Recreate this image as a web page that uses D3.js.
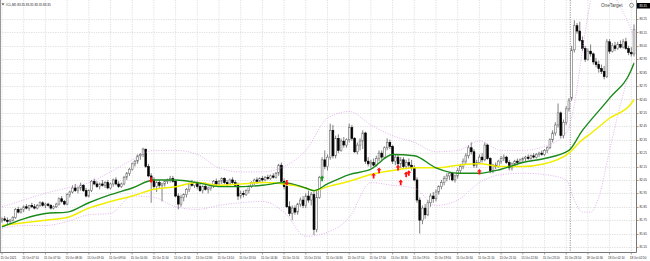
<!DOCTYPE html>
<meta charset="utf-8">
<style>
body { margin: 0; background: #fff; overflow: hidden; }
text { font-family: "Liberation Sans", Arial, sans-serif; }
</style>
<body>
<script src="https://cdn.jsdelivr.net/npm/d3@7"></script>
<script>

// #CL M5, 15 Oct 06:30 .. 18 Oct 03:00 (one bar per entry)
var opens = [
  81.75,81.76,81.75,81.74,81.75,81.77,81.83,81.81, 81.83,81.85,81.84,81.86,81.85,81.84,81.86,81.88,
  81.86,81.87,81.86,81.84,81.85,81.87,81.91,81.89, 81.87,81.94,81.96,81.99,81.97,81.99,82.01,81.97,
  81.93,81.97,82.04,82.02,82.00,82.02,82.01,82.03, 81.99,82.02,82.05,82.02,82.00,82.02,82.07,82.10,
  82.13,82.17,82.19,82.23,82.24,82.28,82.15,82.08, 82.05,82.00,82.03,82.01,82.02,82.04,82.05,82.06,
  82.04,81.93,81.87,81.92,81.94,81.98,82.02,82.01, 82.03,82.00,81.97,82.00,81.98,81.99,82.01,82.04,
  82.02,82.04,82.06,82.03,82.02,82.05,82.03,82.01, 81.93,81.95,81.94,81.97,82.00,82.03,82.05,82.04,
  82.06,82.05,82.07,82.06,82.08,82.07,82.10,82.16, 82.04,82.00,81.85,81.80,81.84,81.81,81.87,81.90,
  81.86,81.93,81.90,81.94,81.68,81.92,82.07,82.20, 82.15,82.22,82.42,82.23,82.36,82.27,82.34,82.31,
  82.35,82.44,82.36,82.26,82.31,82.34,82.40,82.19, 82.17,82.18,82.16,82.21,82.25,82.22,82.29,82.33,
  82.30,82.19,82.22,82.17,82.20,82.15,82.18,82.16, 82.14,82.05,81.90,81.75,81.84,81.79,81.88,81.93,
  81.91,81.96,82.00,82.03,82.06,82.08,82.10,82.05, 82.08,82.12,82.15,82.19,82.23,82.29,82.26,82.16,
  82.18,82.22,82.20,82.31,82.21,82.12,82.16,82.15, 82.19,82.21,82.22,82.18,82.14,82.17,82.19,82.18,
  82.20,82.21,82.22,82.21,82.23,82.22,82.24,82.25, 82.24,82.27,82.29,82.35,82.40,82.46,82.55,82.38,
  82.48,82.58,82.66,83.02,83.20,83.16,83.09,83.03, 82.95,83.01,82.99,82.93,82.91,82.88,82.86,82.82,
  83.08,83.01,83.05,83.03,83.06,83.04,83.08,83.03, 83.00,82.99
];
var highs = [
  81.77,81.78,81.77,81.76,81.78,81.84,81.85,81.84, 81.86,81.87,81.86,81.88,81.87,81.87,81.89,81.89,
  81.88,81.88,81.87,81.86,81.88,81.92,81.93,81.90, 81.95,81.97,82.01,82.02,82.00,82.03,82.02,81.99,
  81.98,82.05,82.06,82.04,82.03,82.05,82.04,82.05, 82.03,82.06,82.07,82.04,82.03,82.08,82.11,82.14,
  82.18,82.20,82.24,82.25,82.29,82.28,82.17,82.10, 82.07,82.04,82.05,82.03,82.05,82.06,82.08,82.08,
  82.05,81.95,81.94,81.95,81.99,82.03,82.05,82.04, 82.04,82.02,82.01,82.03,82.00,82.02,82.05,82.06,
  82.05,82.07,82.07,82.05,82.06,82.07,82.05,82.03, 81.97,81.97,81.98,82.01,82.04,82.06,82.07,82.07,
  82.08,82.08,82.09,82.09,82.10,82.11,82.17,82.18, 82.06,82.01,81.89,81.86,81.86,81.88,81.92,81.93,
  81.95,81.97,81.96,81.97,81.97,82.08,82.22,82.27, 82.24,82.47,82.46,82.38,82.39,82.36,82.37,82.36,
  82.47,82.46,82.37,82.33,82.36,82.42,82.41,82.22, 82.20,82.21,82.23,82.27,82.27,82.30,82.36,82.35,
  82.31,82.24,82.24,82.22,82.22,82.20,82.21,82.20, 82.16,82.07,81.92,81.86,81.87,81.90,81.95,81.96,
  81.98,82.01,82.05,82.08,82.10,82.11,82.11,82.09, 82.14,82.17,82.21,82.25,82.31,82.33,82.28,82.20,
  82.24,82.25,82.33,82.32,82.22,82.17,82.18,82.20, 82.23,82.24,82.23,82.20,82.18,82.20,82.21,82.21,
  82.22,82.23,82.24,82.24,82.25,82.25,82.26,82.27, 82.28,82.30,82.36,82.42,82.48,82.62,82.56,82.50,
  82.60,82.66,83.05,83.24,83.22,83.23,83.12,83.05, 83.03,83.06,83.00,82.96,82.94,82.91,82.90,83.10,
  83.10,83.07,83.08,83.08,83.09,83.10,83.11,83.05, 83.04,83.21
];
var lows = [
  81.73,81.74,81.72,81.72,81.74,81.76,81.80,81.80, 81.81,81.83,81.82,81.84,81.83,81.83,81.85,81.85,
  81.84,81.85,81.83,81.83,81.84,81.86,81.88,81.86, 81.86,81.92,81.95,81.96,81.95,81.97,81.96,81.92,
  81.92,81.96,82.01,81.99,81.98,82.00,81.99,81.98, 81.98,82.00,82.01,81.99,81.99,82.01,82.05,82.08,
  82.12,82.15,82.17,82.20,82.22,82.14,82.07,81.88, 81.98,81.96,81.99,81.89,82.00,82.02,82.03,82.03,
  81.92,81.83,81.85,81.89,81.92,81.96,82.00,81.99, 81.98,81.96,81.95,81.97,81.95,81.97,81.99,82.01,
  82.00,82.02,82.02,82.00,82.01,82.02,82.00,81.90, 81.91,81.92,81.93,81.95,81.99,82.01,82.02,82.03,
  82.03,82.04,82.05,82.05,82.06,82.06,82.08,82.03, 81.98,81.84,81.78,81.75,81.79,81.79,81.85,81.84,
  81.84,81.88,81.86,81.64,81.66,81.91,82.06,82.13, 82.12,82.20,82.21,82.21,82.25,82.26,82.29,82.29,
  82.33,82.34,82.25,82.24,82.27,82.28,82.17,82.15, 82.14,82.15,82.15,82.19,82.20,82.21,82.27,82.28,
  82.17,82.16,82.15,82.14,82.13,82.13,82.14,82.12, 82.04,81.88,81.65,81.72,81.76,81.78,81.85,81.88,
  81.89,81.94,81.98,82.01,82.04,82.05,82.04,82.03, 82.06,82.10,82.13,82.17,82.21,82.24,82.14,82.14,
  82.17,82.18,82.19,82.20,82.10,82.10,82.13,82.14, 82.17,82.19,82.17,82.12,82.12,82.15,82.16,82.17,
  82.18,82.19,82.20,82.20,82.21,82.21,82.22,82.23, 82.23,82.25,82.28,82.33,82.38,82.44,82.36,82.36,
  82.46,82.56,82.64,83.00,83.14,83.08,83.01,82.93, 82.94,82.97,82.91,82.89,82.85,82.84,82.80,82.81,
  82.99,83.00,83.01,83.02,83.03,83.03,83.02,82.98, 82.97,82.97
];
var closes = [
  81.76,81.75,81.74,81.75,81.77,81.83,81.81,81.83, 81.85,81.84,81.86,81.85,81.84,81.86,81.88,81.86,
  81.87,81.86,81.84,81.85,81.87,81.91,81.89,81.87, 81.94,81.96,81.99,81.97,81.99,82.01,81.97,81.93,
  81.97,82.04,82.02,82.00,82.02,82.01,82.03,81.99, 82.02,82.05,82.02,82.00,82.02,82.07,82.10,82.13,
  82.17,82.19,82.23,82.24,82.28,82.15,82.08,82.05, 82.00,82.03,82.01,82.02,82.04,82.05,82.06,82.04,
  81.93,81.87,81.92,81.94,81.98,82.02,82.01,82.03, 82.00,81.97,82.00,81.98,81.99,82.01,82.04,82.02,
  82.04,82.06,82.03,82.02,82.05,82.03,82.01,81.93, 81.95,81.94,81.97,82.00,82.03,82.05,82.04,82.06,
  82.05,82.07,82.06,82.08,82.07,82.10,82.16,82.04, 82.00,81.85,81.80,81.84,81.81,81.87,81.90,81.86,
  81.93,81.90,81.94,81.68,81.92,82.07,82.20,82.15, 82.22,82.42,82.23,82.36,82.27,82.34,82.31,82.35,
  82.44,82.36,82.26,82.31,82.34,82.40,82.19,82.17, 82.18,82.16,82.21,82.25,82.22,82.29,82.33,82.30,
  82.19,82.22,82.17,82.20,82.15,82.18,82.16,82.14, 82.05,81.90,81.75,81.84,81.79,81.88,81.93,81.91,
  81.96,82.00,82.03,82.06,82.08,82.10,82.05,82.08, 82.12,82.15,82.19,82.23,82.29,82.26,82.16,82.18,
  82.22,82.20,82.31,82.21,82.12,82.16,82.15,82.19, 82.21,82.22,82.18,82.14,82.17,82.19,82.18,82.20,
  82.21,82.22,82.21,82.23,82.22,82.24,82.25,82.24, 82.27,82.29,82.35,82.40,82.46,82.55,82.38,82.48,
  82.58,82.64,83.02,83.20,83.16,83.09,83.03,82.95, 83.01,82.99,82.93,82.91,82.88,82.86,82.82,83.08,
  83.01,83.05,83.03,83.06,83.04,83.08,83.03,83.00, 82.99,83.17
];

// moving averages, read at these bar indices
var maIndex  = [0,8,16,24,32,40,48,56,64,72,80,88,96,104,112,115,120,128,136,144,152,160,168,176,184,192,200,209,214,216,224,232,233];
var greenMA  = [81.70,81.76,81.80,81.81,81.88,81.94,81.99,82.05,82.05,82.03,82.00,82.00,82.01,82.03,81.99,81.97,82.02,82.09,82.13,82.24,82.23,82.14,82.10,82.10,82.13,82.18,82.21,82.27,82.42,82.47,82.66,82.87,82.92];
var yellowMA = [81.71,81.73,81.75,81.77,81.84,81.89,81.93,81.98,82.00,82.03,82.01,82.02,82.03,82.02,81.99,81.97,82.00,82.04,82.09,82.12,82.14,82.14,82.16,82.17,82.15,82.15,82.17,82.25,82.35,82.38,82.51,82.62,82.65];

// bollinger bands
var bbIndex = [0,8,16,24,32,40,48,56,64,72,80,88,96,104,112,120,128,136,144,152,160,168,176,184,192,200,208,211,214,217,220,224,227,230,233];
var bbUpper = [81.85,81.90,81.95,81.99,82.03,82.11,82.20,82.27,82.27,82.24,82.14,82.11,82.11,82.15,82.27,82.51,82.56,82.46,82.38,82.33,82.26,82.27,82.34,82.27,82.27,82.30,82.40,82.61,83.02,83.39,83.62,83.50,83.38,83.26,83.12];
var bbLower = [81.69,81.71,81.71,81.74,81.79,81.80,81.93,81.92,81.85,81.83,81.86,81.88,81.89,81.81,81.63,81.66,81.77,82.03,82.01,81.99,81.86,81.90,82.03,82.09,82.10,82.09,82.05,81.90,81.81,81.81,81.92,82.27,82.53,82.76,82.93];

// signal arrows
var sigIndex = [55,105,118,137,139,146,147,149,150,176];
var sigPrice = [82.05,82.03,82.06,82.08,82.12,82.14,82.03,82.09,82.10,82.11];
var sigDir   = ["down","down","up","up","up","up","up","up","up","up"];
var sigColor = ["red","red","green","red","red","red","red","red","red","red"];

var priceTicks = [81.55,81.65,81.75,81.85,81.95,82.05,82.15,82.25,82.35,82.45,82.55,82.65,82.75,82.85,82.95,83.05,83.15,83.25];
var timeLabels = ["15 Oct 2021","15 Oct 07:10","15 Oct 07:50","15 Oct 08:30","15 Oct 09:10","15 Oct 09:50",
  "15 Oct 10:30","15 Oct 11:10","15 Oct 11:50","15 Oct 12:30","15 Oct 13:10","15 Oct 13:50","15 Oct 14:30",
  "15 Oct 15:10","15 Oct 15:50","15 Oct 16:30","15 Oct 17:10","15 Oct 17:50","15 Oct 18:30","15 Oct 19:10",
  "15 Oct 19:50","15 Oct 20:30","15 Oct 21:10","15 Oct 21:50","15 Oct 22:30","15 Oct 23:10","15 Oct 23:50",
  "18 Oct 01:30","18 Oct 02:10","18 Oct 02:50"];
var barsPerLabel = 8;
var firstMondayBar = 210;
var lastPrice = 83.35;

var width = 650, height = 261,
    plotRight = 636.5, plotBottom = 252.5;

var x = d3.scaleLinear().domain([0, closes.length - 1]).range([2, 634]);
var y = d3.scaleLinear().domain([81.55, 83.25]).range([247, 19]);

var svg = d3.select("body").append("svg")
    .attr("width", width)
    .attr("height", height);

svg.append("defs").append("clipPath").attr("id", "plot")
  .append("rect").attr("x", 0).attr("y", 0).attr("width", plotRight).attr("height", plotBottom);

// grid
var grid = svg.append("g").attr("stroke", "#d2d2d2").attr("stroke-width", 0.7)
    .attr("stroke-dasharray", "1.2,1.2");
grid.selectAll(".hg").data(priceTicks).enter().append("line")
    .attr("x1", 0).attr("x2", plotRight)
    .attr("y1", function(d) { return Math.round(y(d)) + 0.5; })
    .attr("y2", function(d) { return Math.round(y(d)) + 0.5; });
grid.selectAll(".vg").data(timeLabels).enter().append("line")
    .attr("x1", function(d, k) { return x(k * barsPerLabel); })
    .attr("x2", function(d, k) { return x(k * barsPerLabel); })
    .attr("y1", 0).attr("y2", plotBottom);

// weekend separator
var sepX = (x(firstMondayBar - 1) + x(firstMondayBar)) / 2;
svg.append("line")
    .attr("x1", sepX).attr("x2", sepX).attr("y1", 0).attr("y2", plotBottom)
    .attr("stroke", "#7a7a7a").attr("stroke-width", 0.8).attr("stroke-dasharray", "1.2,1.2");

var plot = svg.append("g").attr("clip-path", "url(#plot)");

// candles
var bars = plot.selectAll(".bar").data(closes).enter().append("g");
bars.append("line")
    .attr("x1", function(d, i) { return x(i); })
    .attr("x2", function(d, i) { return x(i); })
    .attr("y1", function(d, i) { return y(highs[i]); })
    .attr("y2", function(d, i) { return y(lows[i]); })
    .attr("stroke", "#4a4a4a").attr("stroke-width", 0.7);
bars.append("rect")
    .attr("x", function(d, i) { return x(i) - 0.9; })
    .attr("width", 1.8)
    .attr("y", function(d, i) { return y(Math.max(opens[i], d)); })
    .attr("height", function(d, i) { return Math.max(0.6, Math.abs(y(opens[i]) - y(d))); })
    .attr("fill", function(d, i) { return d >= opens[i] ? "#fff" : "#000"; })
    .attr("stroke", function(d, i) { return d >= opens[i] ? "#6e6e6e" : "#000"; })
    .attr("stroke-width", 0.6);

// bands
var bandLine = d3.line()
    .x(function(d) { return x(d[0]); })
    .y(function(d) { return y(d[1]); })
    .curve(d3.curveMonotoneX);
[bbUpper, bbLower].forEach(function(band) {
  plot.append("path")
      .datum(bbIndex.map(function(idx, j) { return [idx, band[j]]; }))
      .attr("d", bandLine)
      .attr("fill", "none")
      .attr("stroke", "#d9a0e8")
      .attr("stroke-width", 0.8)
      .attr("stroke-dasharray", "1,1.5");
});

// moving averages
plot.append("path")
    .datum(maIndex.map(function(idx, j) { return [idx, yellowMA[j]]; }))
    .attr("d", bandLine)
    .attr("fill", "none").attr("stroke", "#f2ee00").attr("stroke-width", 1.5);
plot.append("path")
    .datum(maIndex.map(function(idx, j) { return [idx, greenMA[j]]; }))
    .attr("d", bandLine)
    .attr("fill", "none").attr("stroke", "#1a8a1a").attr("stroke-width", 1.4);

// signal arrows
var upArrow = "M0,-3 L2.4,-0.4 L0.9,-0.4 L0.9,2.6 L-0.9,2.6 L-0.9,-0.4 L-2.4,-0.4 Z";
plot.selectAll(".sig").data(sigIndex).enter().append("path")
    .attr("d", upArrow)
    .attr("transform", function(d, j) {
      return "translate(" + x(d) + "," + y(sigPrice[j]) + ")" + (sigDir[j] == "down" ? " rotate(180)" : "");
    })
    .attr("fill", function(d, j) { return sigColor[j] == "red" ? "#ff1010" : "#1e9a1e"; });

// axes frame
svg.append("line").attr("x1", 0.5).attr("x2", 0.5).attr("y1", 0).attr("y2", plotBottom)
    .attr("stroke", "#9a9a9a").attr("stroke-width", 1);
svg.append("line").attr("x1", plotRight).attr("x2", plotRight).attr("y1", 0).attr("y2", plotBottom)
    .attr("stroke", "#777").attr("stroke-width", 1);
svg.append("line").attr("x1", 0).attr("x2", plotRight).attr("y1", plotBottom).attr("y2", plotBottom)
    .attr("stroke", "#777").attr("stroke-width", 1);

// price scale
var pAxis = svg.append("g");
pAxis.selectAll("line").data(priceTicks).enter().append("line")
    .attr("x1", plotRight).attr("x2", plotRight + 2)
    .attr("y1", function(d) { return Math.round(y(d)) + 0.5; })
    .attr("y2", function(d) { return Math.round(y(d)) + 0.5; })
    .attr("stroke", "#777").attr("stroke-width", 0.7);
pAxis.selectAll("text").data(priceTicks).enter().append("text")
    .attr("x", plotRight + 3)
    .attr("y", function(d) { return y(d) + 1.1; })
    .attr("font-size", 2.9).attr("fill", "#222")
    .text(function(d) { return d3.format(".2f")(d); });

svg.append("rect").attr("x", plotRight + 0.5).attr("y", 3).attr("width", 13).attr("height", 5.5).attr("fill", "#000");
svg.append("text").attr("x", plotRight + 3).attr("y", 6.9)
    .attr("font-size", 2.9).attr("fill", "#fff").text(d3.format(".2f")(lastPrice));

// time scale
var tAxis = svg.append("g");
tAxis.selectAll("line").data(timeLabels).enter().append("line")
    .attr("x1", function(d, k) { return x(k * barsPerLabel); })
    .attr("x2", function(d, k) { return x(k * barsPerLabel); })
    .attr("y1", plotBottom).attr("y2", plotBottom + 2)
    .attr("stroke", "#777").attr("stroke-width", 0.7);
tAxis.selectAll("text").data(timeLabels).enter().append("text")
    .attr("x", function(d, k) { return x(k * barsPerLabel) - 1.5; })
    .attr("y", 258.5)
    .attr("font-size", 2.9).attr("fill", "#222")
    .text(function(d) { return d; });

// header and indicator tag
svg.append("path").attr("d", "M1.5,3.5 L4.5,3.5 L3,5.3 Z").attr("fill", "#333");
svg.append("text").attr("x", 5.5).attr("y", 5.6).attr("font-size", 3.1).attr("fill", "#222")
    .text("#CL,M5  83.35 83.35 83.35 83.35");

svg.append("text").attr("x", 601).attr("y", 7).attr("font-size", 4.6).attr("fill", "#444")
    .text("OneTarget");
svg.append("circle").attr("cx", 631.5).attr("cy", 5.3).attr("r", 2)
    .attr("fill", "none").attr("stroke", "#555").attr("stroke-width", 0.6);

</script>
</body>
